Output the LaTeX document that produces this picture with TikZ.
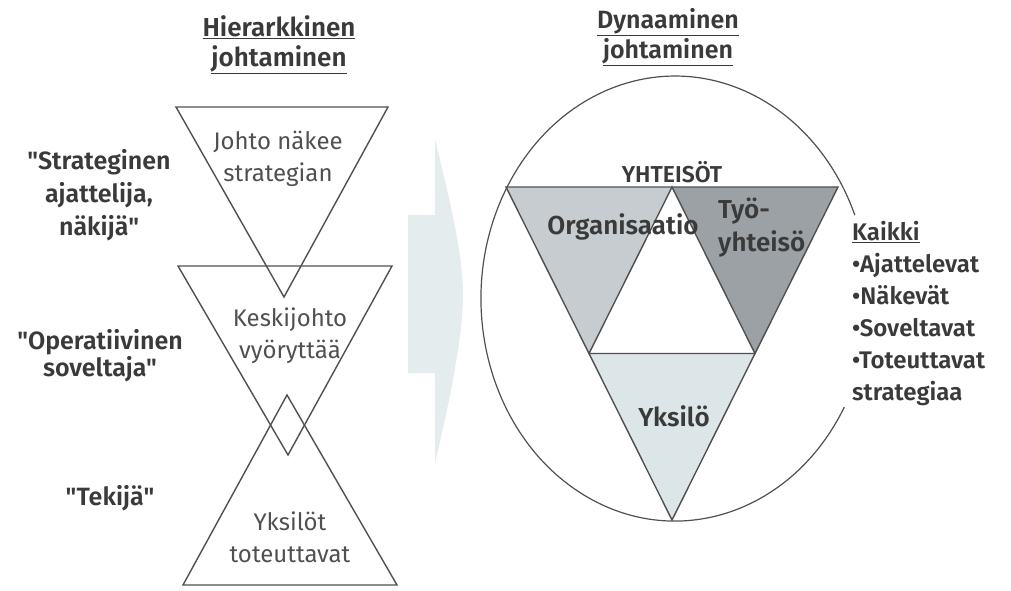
\documentclass[tikz,border=0pt]{standalone}
\usepackage{fontspec}
\setmainfont{Fira Sans}
\newfontfamily\semifont{Fira Sans SemiBold}
\definecolor{ink}{HTML}{3A3A3A}
\definecolor{softink}{HTML}{505050}
\definecolor{lineg}{HTML}{505050}
\definecolor{orgfill}{HTML}{C6CCCF}
\definecolor{tyofill}{HTML}{9BA1A4}
\definecolor{yksfill}{HTML}{DCE6E9}
\definecolor{arrowfill}{HTML}{E4ECEE}
\begin{document}
\begin{tikzpicture}[x=1pt,y=-1pt,
  tri/.style={draw=lineg,line width=1.4pt,line join=miter},
  boldlabel/.style={text=ink,align=center,font=\semifont\fontsize{25}{33}\selectfont,inner sep=0pt},
  trilabel/.style={text=softink,align=center,font=\fontsize{24}{32}\selectfont,inner sep=0pt},
  title/.style={text=ink,align=center,font=\semifont\fontsize{26}{30}\selectfont,inner sep=0pt},
  innerlabel/.style={text=ink,font=\semifont\fontsize{26}{33}\selectfont,inner sep=0pt}]
\useasboundingbox (0,0) rectangle (1011,590);

% ---------- left: hierarchical ----------
\node[title] (lt) at (279,45) {\underline{Hierarkkinen}\\\underline{johtaminen}};
\draw[tri] (176,107) -- (388,107) -- (284,297) -- cycle;
\draw[tri] (178,266) -- (392,266) -- (288,455) -- cycle;
\draw[tri] (287,395) -- (397,585) -- (183,585) -- cycle;

\node[trilabel] (t1) at (278,159) {Johto näkee\\strategian};
\node[trilabel] (t2) at (290,336) {Keskijohto\\vyöryttää};
\node[trilabel] (t3) at (290,537) {Yksilöt\\toteuttavat};

\node[boldlabel] (l1) at (99,195) {"Strateginen\\ajattelija,\\näkijä"};
\node[boldlabel,font=\semifont\fontsize{25}{27}\selectfont] (l2) at (100,356) {"Operatiivinen\\soveltaja"};
\node[boldlabel] (l3) at (110,498) {"Tekijä"};

% ---------- middle arrow ----------
\fill[arrowfill] (408,215) -- (435,215) -- (435,140)
  .. controls (450,200) and (463,255) .. (463,295)
  .. controls (463,335) and (450,400) .. (435,463)
  -- (435,373) -- (408,373) -- cycle;

% ---------- right: dynamic ----------
\node[title,font=\semifont\fontsize{25}{30}\selectfont] (rt) at (668,37) {\underline{Dynaaminen}\\\underline{johtaminen}};

\coordinate (A) at (506,187);
\coordinate (B) at (838,187);
\coordinate (C) at (672,520);
\coordinate (AB) at (672,187);
\coordinate (AC) at (589,353.5);
\coordinate (BC) at (755,353.5);
\fill[orgfill] (A) -- (AB) -- (AC) -- cycle;
\fill[tyofill] (AB) -- (B) -- (BC) -- cycle;
\fill[yksfill] (AC) -- (BC) -- (C) -- cycle;
\draw[tri] (A) -- (B) -- (C) -- cycle;
\draw[tri] (AB) -- (AC) -- (BC) -- cycle;

\coordinate (es) at (844.3,407.1);
\draw[lineg,line width=1.2pt] (es) arc[start angle=29.2,end angle=338,x radius=194,y radius=222.5];

\node[text=ink,font=\semifont\fontsize{23}{26}\selectfont,inner sep=0pt] (yht) at (672,172) {YHTEISÖT};
\node[innerlabel] (org) at (623,227) {Organisaatio};
\node[innerlabel,align=left,anchor=west] (tyo) at (718,228) {Työ-\\yhteisö};
\node[innerlabel] (yks) at (674,416) {Yksilö};

\node[text=ink,align=left,anchor=west,font=\semifont\fontsize{24}{32}\selectfont,inner sep=0pt] (kaikki) at (852,313)
  {\underline{Kaikki}\\•Ajattelevat\\•Näkevät\\•Soveltavat\\•Toteuttavat\\strategiaa};
\end{tikzpicture}
\end{document}
